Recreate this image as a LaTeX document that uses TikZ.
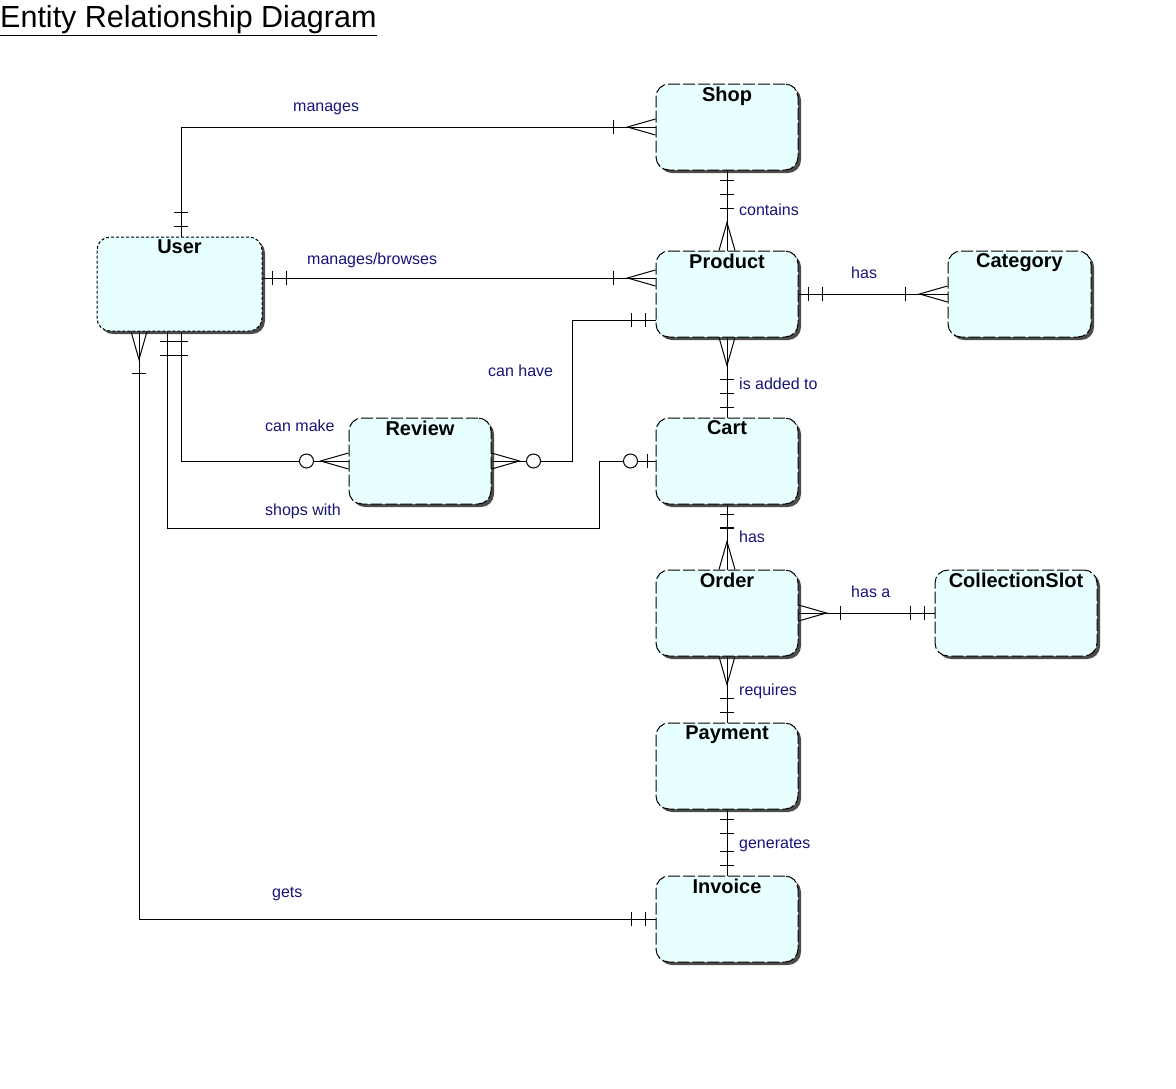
\documentclass[tikz,border=0pt]{standalone}
\usepackage{fontspec}
\setmainfont{Liberation Sans}
\usepackage{tikz}
\usetikzlibrary{decorations.markings,shadows}

\definecolor{entfill}{RGB}{232,255,255}
\definecolor{relnavy}{RGB}{20,20,120}

\begin{document}
\begin{tikzpicture}[x=1pt, y=-1pt,
        entity/.style={rectangle, rounded corners=13pt, draw, line width=1pt,
          dash pattern=on 12pt off 3pt, fill=entfill,
          minimum width=142pt, minimum height=86pt,
          general shadow={fill=gray!60!black, shadow xshift=3pt, shadow yshift=-3pt}},
        ttl/.style={anchor=north, font=\bfseries\fontsize{20}{24}\selectfont, inner sep=3pt},
        lbl/.style={anchor=base west, text=relnavy, font=\fontsize{16}{19}\selectfont, inner sep=0pt},
        rel/.style={draw, line width=1pt},
        bar at/.style={postaction={decorate, decoration={markings,
              mark=at position #1 with {\draw[line width=1pt] (0pt,-7pt) -- (0pt,7pt);}}}},
        ring at/.style={postaction={decorate, decoration={markings,
              mark=at position #1 with {\draw[line width=1pt, fill=white] (0pt,0pt) circle (7pt);}}}},
        crow s/.style={postaction={decorate, decoration={markings,
              mark=at position 28pt with {\draw[line width=1pt] (-28pt,8pt) -- (0pt,0pt) -- (-28pt,-8pt);}}}},
        crow e/.style={postaction={decorate, decoration={markings,
              mark=at position -28pt with {\draw[line width=1pt] (28pt,8pt) -- (0pt,0pt) -- (28pt,-8pt);}}}},
        s one/.style={bar at=10pt, bar at=24pt},
        e one/.style={bar at=-10pt, bar at=-24pt},
        s many/.style={crow s, bar at=42pt},
        e many/.style={crow e, bar at=-42pt},
        s zmany/.style={crow s, ring at=42pt},
        e zmany/.style={crow e, ring at=-42pt},
        e zone/.style={bar at=-8pt, ring at=-25pt}]
      \useasboundingbox (0,0) rectangle (1176,1088);

      \node[anchor=base west, inner sep=0pt, font=\fontsize{30.5}{36}\selectfont] (title) at (0,27)
        {\underline{Entity Relationship Diagram}};

      % entities
      \node[entity, label={[ttl,name=shopttl]north:Shop}] (shop) at (727,127) {};
      \node[entity, minimum width=165pt, minimum height=94pt, dash pattern=on 3pt off 2pt,
        label={[ttl,name=userttl]north:User}] (user) at (179.5,284) {};
      \node[entity, label={[ttl,name=productttl]north:Product}] (product) at (727,294) {};
      \node[entity, minimum width=143pt, label={[ttl,name=categoryttl]north:Category}] (category) at (1019.5,294) {};
      \node[entity, label={[ttl,name=reviewttl]north:Review}] (review) at (420,461) {};
      \node[entity, label={[ttl,name=cartttl]north:Cart}] (cart) at (727,461) {};
      \node[entity, label={[ttl,name=orderttl]north:Order}] (order) at (727,613) {};
      \node[entity, minimum width=162pt, label={[ttl,name=slotttl]north:CollectionSlot}] (slot) at (1016,613) {};
      \node[entity, label={[ttl,name=paymentttl]north:Payment}] (payment) at (727,766) {};
      \node[entity, label={[ttl,name=invoicettl]north:Invoice}] (invoice) at (727,919) {};

      % relationships
      \draw[rel, s one, e many] ([xshift=1.5pt]user.north) |- (shop.west);
      \draw[rel, s one, e many] (shop.south) -- (product.north);
      \draw[rel, s one, e many] ([yshift=6pt]user.east) -- ([yshift=16pt]product.west);
      \draw[rel, s one, e many] (product.east) -- (category.west);
      \draw[rel, s zmany, e one] (review.east) -- ++(81,0) |- ([yshift=-26pt]product.west);
      \draw[rel, s many, e one] (product.south) -- (cart.north);
      \draw[rel, s one, e zmany] ([xshift=1.5pt]user.south) |- (review.west);
      \draw[rel, s one, e zone] ([xshift=-12.5pt]user.south) -- ++(0,197)
        -| ([xshift=-56pt]cart.west) -- (cart.west);
      \draw[rel, s one, e many] (cart.south) -- (order.north);
      \draw[rel, s many, e one] (order.east) -- (slot.west);
      \draw[rel, s many, e one] (order.south) -- (payment.north);
      \draw[rel, s one, e one] (payment.south) -- (invoice.north);
      \draw[rel, s many, e one] ([xshift=-40.5pt]user.south) |- (invoice.west);

      % labels
      \node[lbl] (lmanages) at (293,111) {manages};
      \node[lbl] (lbrowses) at (307,264) {manages/browses};
      \node[lbl] (lcontains) at (739,215) {contains};
      \node[lbl] (lcategory) at (851,278) {has};
      \node[lbl] (lhave) at (488,376) {can have};
      \node[lbl] (ladded) at (739,389) {is added to};
      \node[lbl] (lmake) at (265,431) {can make};
      \node[lbl] (lshops) at (265,515) {shops with};
      \node[lbl] (lorder) at (739,542) {has};
      \node[lbl] (lslot) at (851,597) {has a};
      \node[lbl] (lrequires) at (739,695) {requires};
      \node[lbl] (lgenerates) at (739,848) {generates};
      \node[lbl] (lgets) at (272,897) {gets};
    \end{tikzpicture}
\end{document}
